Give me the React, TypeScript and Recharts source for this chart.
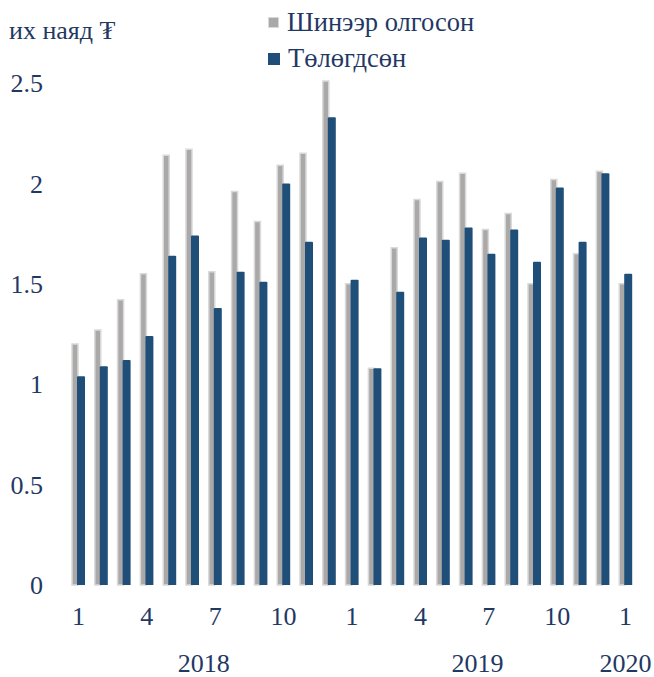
import React from 'react';
import { BarChart, Bar, XAxis, YAxis, Legend } from 'recharts';

const months = [1, 2, 3, 4, 5, 6, 7, 8, 9, 10, 11, 12, 1, 2, 3, 4, 5, 6, 7, 8, 9, 10, 11, 12, 1];
const years = [2018, 2018, 2018, 2018, 2018, 2018, 2018, 2018, 2018, 2018, 2018, 2018,
  2019, 2019, 2019, 2019, 2019, 2019, 2019, 2019, 2019, 2019, 2019, 2019, 2020];
const newLoans = [1.20, 1.27, 1.42, 1.55, 2.14, 2.17, 1.56, 1.96, 1.81, 2.09, 2.15, 2.51,
  1.50, 1.08, 1.68, 1.92, 2.01, 2.05, 1.77, 1.85, 1.50, 2.02, 1.65, 2.06, 1.50];
const repaid = [1.04, 1.09, 1.12, 1.24, 1.64, 1.74, 1.38, 1.56, 1.51, 2.00, 1.71, 2.33,
  1.52, 1.08, 1.46, 1.73, 1.72, 1.78, 1.65, 1.77, 1.61, 1.98, 1.71, 2.05, 1.55];
const yTicks = [0, 0.5, 1, 1.5, 2, 2.5];
const seriesNames = ['Шинээр олгосон', 'Төлөгдсөн'];
const unitLabel = 'их наяд ₮';

const data = months.map((m, i) => ({
  key: `${years[i]}-${m}`,
  month: m,
  year: years[i],
  newLoans: newLoans[i],
  repaid: repaid[i],
}));

const FONT = "'Liberation Serif', 'DejaVu Serif', serif";
const TEXT = '#1F3864';
const GREY = '#ABA8A8';
const GREY_EDGE = '#D9D9D9';
const BLUE = '#1F4E79';

const MonthTick = (props: any) => {
  const { x, y, payload } = props;
  const d = data[payload.index];
  return (
    <text x={x} y={y} dy="0.71em" textAnchor="middle" fill={TEXT} fontFamily={FONT} fontSize={26}>
      {d ? d.month : ''}
    </text>
  );
};

const YearTick = (props: any) => {
  const { x, y, payload, width } = props;
  const i = payload.index;
  const yr = years[i];
  if (i > 0 && years[i - 1] === yr) return null;
  const count = years.filter((v) => v === yr).length;
  const band = width / years.length;
  const cx = x + ((count - 1) / 2) * band;
  return (
    <text x={cx} y={y} dy="0.71em" textAnchor="middle" fill={TEXT} fontFamily={FONT} fontSize={26}>
      {yr}
    </text>
  );
};

const UnitLabel = () => (
  <text x={9} y={39} fill={TEXT} fontFamily={FONT} fontSize={26}>
    {unitLabel}
  </text>
);

const LegendContent = () => (
  <div style={{ position: 'relative', width: 654, height: 80, fontFamily: FONT, fontSize: 26.5, color: TEXT }}>
    <div style={{ position: 'absolute', left: 268, top: 7, display: 'flex', alignItems: 'center', whiteSpace: 'nowrap' }}>
      <span style={{ display: 'inline-block', width: 9, height: 9, background: GREY, border: `1.5px solid ${GREY_EDGE}`, marginRight: 8 }} />
      <span>{seriesNames[0]}</span>
    </div>
    <div style={{ position: 'absolute', left: 268, top: 43, display: 'flex', alignItems: 'center', whiteSpace: 'nowrap' }}>
      <span style={{ display: 'inline-block', width: 12, height: 12, background: BLUE, marginRight: 8 }} />
      <span>{seriesNames[1]}</span>
    </div>
  </div>
);

export default function App() {
  return (
    <div style={{ position: 'absolute', left: 0, top: 0 }}>
      <BarChart
        width={654}
        height={677}
        data={data}
        margin={{ top: 81, right: 17, left: 0, bottom: 0 }}
        barGap={-1}
        barCategoryGap={0}
      >
        <XAxis
          dataKey="key"
          xAxisId="month"
          interval={2}
          axisLine={false}
          tickLine={false}
          tickSize={0}
          tickMargin={22}
          height={45}
          tick={<MonthTick />}
        />
        <XAxis
          dataKey="key"
          xAxisId="year"
          interval={0}
          axisLine={false}
          tickLine={false}
          tickSize={0}
          tickMargin={24}
          height={47}
          tick={<YearTick />}
        />
        <YAxis
          domain={[0, 2.5]}
          ticks={yTicks}
          axisLine={false}
          tickLine={false}
          tickSize={0}
          tickMargin={24}
          width={67}
          tick={{ fill: TEXT, fontFamily: FONT, fontSize: 26 }}
          label={<UnitLabel />}
        />
        <Legend
          layout="vertical"
          align="center"
          verticalAlign="middle"
          wrapperStyle={{ left: 0, top: 0, width: 654 }}
          content={<LegendContent />}
        />
        <Bar
          dataKey="newLoans"
          name={seriesNames[0]}
          xAxisId="month"
          fill={GREY}
          stroke={GREY_EDGE}
          strokeWidth={1.5}
          barSize={6}
          isAnimationActive={false}
        />
        <Bar
          dataKey="repaid"
          name={seriesNames[1]}
          xAxisId="month"
          fill={BLUE}
          barSize={8}
          radius={[1, 1, 0, 0]}
          isAnimationActive={false}
        />
      </BarChart>
    </div>
  );
}
